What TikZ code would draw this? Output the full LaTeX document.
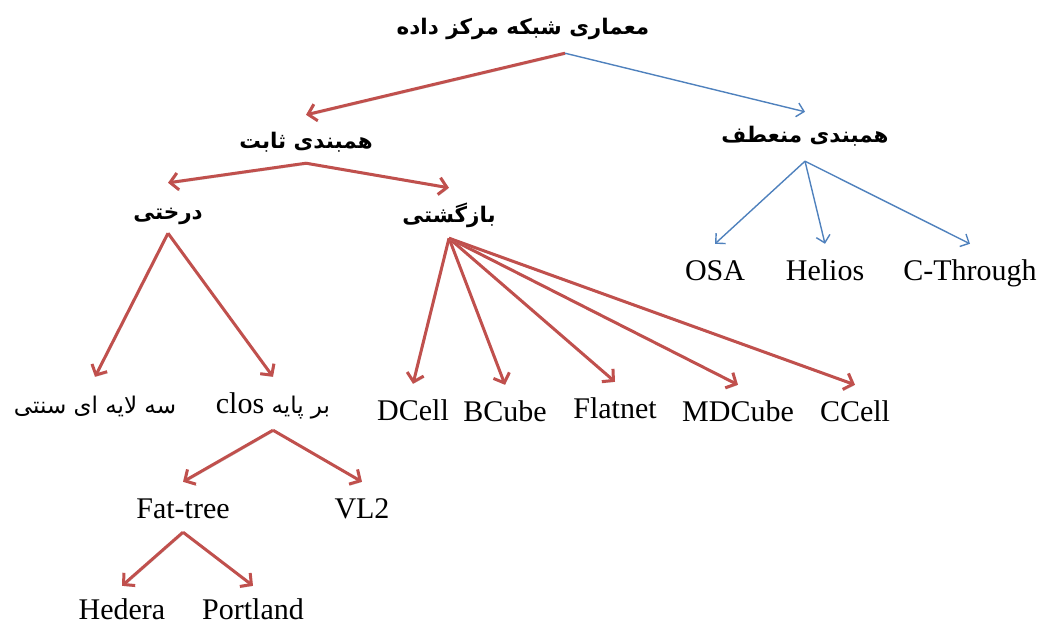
\documentclass[tikz,border=0pt]{standalone}
\usepackage{fontspec}
\setmainfont{Liberation Serif}
\newfontfamily\farsi[Script=Arabic]{DejaVu Sans}
\TeXXeTstate=1
\usetikzlibrary{arrows.meta}
\definecolor{arrowred}{RGB}{192,80,77}
\definecolor{arrowblue}{RGB}{79,129,189}
\tikzset{head/.style={inner sep=0pt,anchor=base,font=\farsi\bfseries\fontsize{21.5}{26}\selectfont}}
\tikzset{leaf/.style={inner sep=0pt,anchor=base,text height=36pt,text depth=14pt,font=\fontsize{30}{36}\selectfont}}
\tikzset{farsileaf/.style={leaf,text depth=17pt,font=\farsi\fontsize{23}{28}\selectfont}}
\tikzset{toRed/.style={-{Straight Barb[length=8pt,width=17pt]},line width=3pt,draw=arrowred,preaction={draw=black!18,transform canvas={xshift=0.8pt,yshift=-1.4pt}}}}
\tikzset{toBlue/.style={-{Straight Barb[length=7pt,width=14pt]},line width=1.4pt,draw=arrowblue}}

\begin{document}
\begin{tikzpicture}[x=1pt,y=-1pt]
\useasboundingbox (0,0) rectangle (1047,626);
% top levels
\node (root) [head, text height=30pt, text depth=18pt] at (523,35) {\beginR معماری شبکه مرکز داده\endR};
\node (fixed) [head, text height=33pt, text depth=15pt] at (306,148) {\beginR همبندی ثابت\endR};
\node (flex) [head, text height=30pt, text depth=19pt] at (805,142) {\beginR همبندی منعطف\endR};
\node (tree) [head, text height=36pt, text depth=14pt] at (168,219) {\beginR درختی\endR};
\node (recur) [head, text height=34pt, text depth=16pt] at (449,222) {\beginR بازگشتی\endR};
% leaves
\node (trad) [farsileaf] at (95,413) {\beginR سه لایه ای سنتی\endR};
\node (clos) [farsileaf] at (273,413) {\beginR بر پایه \beginL{\rmfamily\fontsize{30}{36}\selectfont clos}\endL\endR};
\node (fattree) [leaf] at (183,518) {Fat-tree};
\node (vl2) [leaf] at (362,518) {VL2};
\node (hedera) [leaf, text height=33pt, text depth=4pt] at (122,619) {Hedera};
\node (portland) [leaf, text height=33pt, text depth=4pt] at (253,619) {Portland};
\node (dcell) [leaf] at (413,420) {DCell};
\node (bcube) [leaf] at (505,421) {BCube};
\node (flatnet) [leaf] at (615,418) {Flatnet};
\node (mdcube) [leaf] at (738,421) {MDCube};
\node (ccell) [leaf] at (855,421) {CCell};
\node (osa) [leaf] at (715,280) {OSA};
\node (helios) [leaf] at (825,280) {Helios};
\node (cthrough) [leaf] at (970,280) {C-Through};
% connectors
\draw [toRed] ([xshift=42pt]root.south) -- (fixed.north);
\draw [toBlue] ([xshift=42pt]root.south) -- (flex.north);
\draw [toRed] (fixed.south) -- (tree.north);
\draw [toRed] (fixed.south) -- (recur.north);
\draw [toRed] (tree.south) -- (trad.north);
\draw [toRed] (tree.south) -- (clos.north);
\draw [toRed] (clos.south) -- (fattree.north);
\draw [toRed] (clos.south) -- (vl2.north);
\draw [toRed] (fattree.south) -- (hedera.north);
\draw [toRed] (fattree.south) -- (portland.north);
\foreach \n in {dcell,bcube,flatnet,mdcube,ccell}
  \draw [toRed] (recur.south) -- (\n.north);
\foreach \n in {osa,helios,cthrough}
  \draw [toBlue] (flex.south) -- (\n.north);
\end{tikzpicture}
\end{document}
